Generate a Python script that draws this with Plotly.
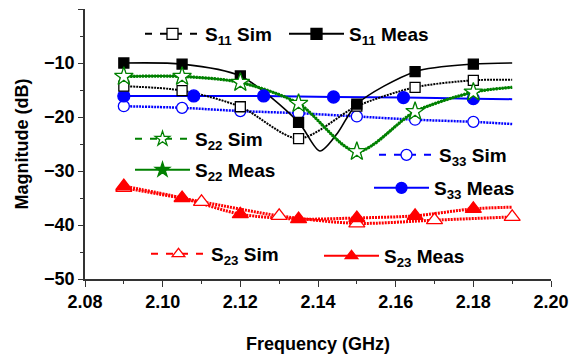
import plotly.graph_objects as go

# ---------------- data ----------------
f_step15 = [2.09, 2.105, 2.12, 2.135, 2.15, 2.165, 2.18]

s11_sim = [-14.3, -15.1, -18.1, -24.0, -18.0, -14.5, -13.2]
s11_sim_curve_f = [2.09, 2.105, 2.12, 2.135, 2.15, 2.165, 2.18, 2.19]
s11_sim_curve = [-14.3, -15.1, -18.1, -24.0, -18.0, -14.5, -13.2, -13.1]

s11_meas = [-10.0, -10.2, -12.4, -21.0, -17.6, -11.6, -10.2]
s11_meas_curve_f = [2.09, 2.105, 2.12, 2.135, 2.1405, 2.145, 2.15, 2.165, 2.18, 2.19]
s11_meas_curve = [-10.0, -10.2, -12.4, -21.0, -26.3, -23.0, -17.6, -11.6, -10.2, -10.0]

s22_sim = [-12.5, -12.5, -13.6, -17.5, -26.4, -19.0, -15.4]
s22_meas = [-12.5, -12.5, -13.6, -17.5, -26.4, -19.0, -15.4]
s22_curve_f = [2.09, 2.105, 2.12, 2.135, 2.15, 2.165, 2.18, 2.19]
s22_curve = [-12.5, -12.5, -13.6, -17.5, -26.4, -19.0, -15.4, -14.5]

s33_sim = [-18.0, -18.3, -18.9, -19.3, -19.9, -20.5, -20.9]
s33_sim_curve_f = [2.09, 2.105, 2.12, 2.135, 2.15, 2.165, 2.18, 2.19]
s33_sim_curve = [-18.0, -18.3, -18.9, -19.3, -19.9, -20.5, -20.9, -21.3]

f_s33_meas = [2.09, 2.108, 2.126, 2.144, 2.162, 2.18]
s33_meas = [-16.1, -16.1, -16.1, -16.3, -16.4, -16.6]
s33_meas_curve_f = [2.09, 2.108, 2.126, 2.144, 2.162, 2.18, 2.19]
s33_meas_curve = [-16.1, -16.1, -16.1, -16.3, -16.4, -16.6, -16.7]

f_s23_sim = [2.09, 2.11, 2.13, 2.15, 2.17, 2.19]
s23_sim = [-33.1, -35.7, -38.3, -39.7, -39.1, -38.5]

s23_meas = [-32.8, -35.0, -38.0, -38.9, -38.7, -38.3, -37.0]
s23_meas_curve_f = [2.09, 2.105, 2.12, 2.135, 2.15, 2.165, 2.18, 2.19]
s23_meas_curve = [-32.8, -35.0, -38.0, -38.9, -38.7, -38.3, -37.0, -36.7]

x_ticks = [2.08, 2.10, 2.12, 2.14, 2.16, 2.18, 2.20]
y_ticks = [0, -10, -20, -30, -40, -50]

BLACK, GREEN, BLUE, RED = "#000000", "#008000", "#0000FF", "#FF0000"
FONT = "Liberation Sans, Arial, sans-serif"
DOT = "2px,1px"

fig = go.Figure()


def curve(xs, ys, color, width, dash="solid"):
    fig.add_trace(go.Scatter(x=xs, y=ys, mode="lines", showlegend=False,
                             line=dict(color=color, width=width, dash=dash,
                                       shape="spline", smoothing=0.8),
                             hoverinfo="skip"))


def marks(xs, ys, color, symbol, size, open_=False):
    fig.add_trace(go.Scatter(x=xs, y=ys, mode="markers", showlegend=False,
                             marker=dict(symbol=symbol, size=size,
                                         color="white" if open_ else color,
                                         line=dict(color=color, width=1.3))))


# curves
curve(s33_sim_curve_f, s33_sim_curve, BLUE, 2.5, DOT)
curve(s33_meas_curve_f, s33_meas_curve, BLUE, 2.0)
curve(s11_sim_curve_f, s11_sim_curve, BLACK, 2.0, DOT)
curve(s11_meas_curve_f, s11_meas_curve, BLACK, 1.6)
curve(s22_curve_f, s22_curve, GREEN, 3.2, DOT)
curve(s22_curve_f, s22_curve, GREEN, 2.0)
curve(f_s23_sim, s23_sim, RED, 3.0, DOT)
curve(s23_meas_curve_f, s23_meas_curve, RED, 3.0, DOT)

# markers
marks(f_step15, s33_sim, BLUE, "circle", 11, True)
marks(f_s33_meas, s33_meas, BLUE, "circle", 12)
marks(f_step15, s11_sim, BLACK, "square", 10, True)
marks(f_step15, s11_meas, BLACK, "square", 10)
marks(f_step15, s22_meas, GREEN, "star", 12)
marks(f_step15, s22_sim, GREEN, "star", 14, True)
marks(f_s23_sim, s23_sim, RED, "triangle-up", 14, True)
marks(f_step15, s23_meas, RED, "triangle-up", 14)

# legend entries (each in its own legend box)
LEG_DASH = "7px,8px"
entries = [
    ("S<sub>11</sub> Sim", BLACK, "square", True, LEG_DASH, 140, 34),
    ("S<sub>11</sub> Meas", BLACK, "square", False, "solid", 284, 34),
    ("S<sub>22</sub> Sim", GREEN, "star", True, LEG_DASH, 130, 139),
    ("S<sub>22</sub> Meas", GREEN, "star", False, "solid", 130, 170),
    ("S<sub>33</sub> Sim", BLUE, "circle", True, LEG_DASH, 374, 155),
    ("S<sub>33</sub> Meas", BLUE, "circle", False, "solid", 369, 188),
    ("S<sub>23</sub> Sim", RED, "triangle-up", True, LEG_DASH, 146, 254),
    ("S<sub>23</sub> Meas", RED, "triangle-up", False, "solid", 319, 256),
]

L, R, T, B = 85, 551, 9, 279
legends = {}
for i, (name, col, sym, op, dash, px, py) in enumerate(entries):
    key = "legend" if i == 0 else f"legend{i+1}"
    fig.add_trace(go.Scatter(x=[None], y=[None], mode="lines+markers", name=name,
                             legend=key,
                             line=dict(color=col, width=2, dash=dash),
                             marker=dict(symbol=sym, size=11,
                                         color="white" if op else col,
                                         line=dict(color=col, width=1.3))))
    legends[key] = dict(x=(px - L) / (R - L), y=(B - py) / (B - T),
                        xanchor="left", yanchor="middle",
                        bgcolor="rgba(0,0,0,0)", borderwidth=0,
                        itemwidth=55,
                        font=dict(family=FONT, size=19, color="black", weight="bold"))

fig.update_layout(**legends)

fig.update_layout(
    width=577, height=360,
    margin=dict(l=L, r=577 - R, t=T, b=360 - B),
    paper_bgcolor="white", plot_bgcolor="white",
    font=dict(family=FONT, size=18, color="black", weight="bold"),
    xaxis=dict(range=[2.08, 2.20], tickvals=x_ticks, tickformat=".2f",
               ticks="outside", ticklen=6, tickwidth=1.3, tickcolor="#333",
               tickfont=dict(size=18),
               minor=dict(ticks="outside", dtick=0.01, ticklen=3, tickcolor="#333"),
               showline=True, linecolor="#333", linewidth=1.5, showgrid=False, zeroline=False,
               title=dict(text="Frequency (GHz)", font=dict(size=18, weight="bold"), standoff=26)),
    yaxis=dict(range=[-50, 0], tickvals=y_ticks,
               ticks="outside", ticklen=5, tickwidth=1.3, tickcolor="#333",
               tickfont=dict(size=18),
               minor=dict(ticks="outside", dtick=5, ticklen=3, tickcolor="#333"),
               showline=True, linecolor="#333", linewidth=1.5, showgrid=False, zeroline=False,
               title=dict(text="Magnitude (dB)", font=dict(size=18, weight="bold"), standoff=11)),
    xaxis2=dict(overlaying="x", matches="x", side="top", anchor="y", range=[2.08, 2.20],
                tickvals=x_ticks, ticks="inside", ticklen=5, tickcolor="#333",
                minor=dict(ticks="inside", dtick=0.01, ticklen=3, tickcolor="#333"),
                showticklabels=False, showline=True, linecolor="#333", linewidth=1.5,
                showgrid=False, zeroline=False),
    yaxis2=dict(overlaying="y", matches="y", side="right", anchor="x", range=[-50, 0],
                tickvals=y_ticks, ticks="inside", ticklen=5, tickcolor="#333",
                minor=dict(ticks="inside", dtick=5, ticklen=3, tickcolor="#333"),
                showticklabels=False, showline=True, linecolor="#333", linewidth=1.5,
                showgrid=False, zeroline=False),
)

fig.write_html("out.html")
